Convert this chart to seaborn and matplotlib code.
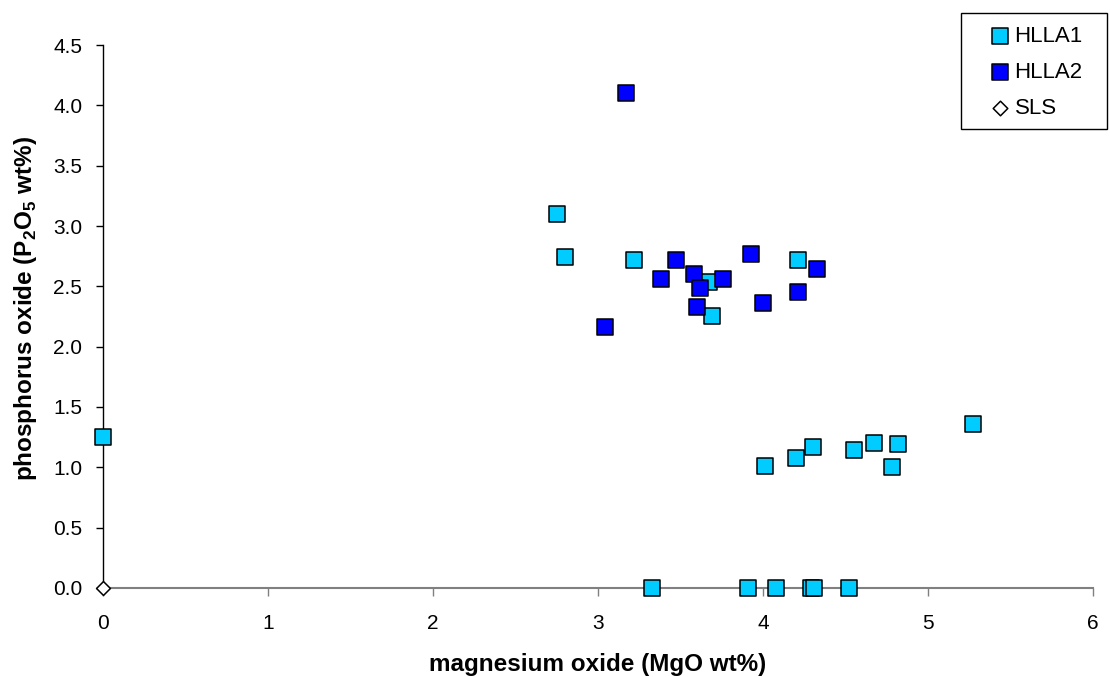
import matplotlib
matplotlib.use("Agg")
import matplotlib.pyplot as plt
from matplotlib.patches import Rectangle
import seaborn as sns
import pandas as pd

sns.set_theme(style="white")
plt.rcParams['font.family'] = ['Liberation Sans', 'DejaVu Sans']
plt.rcParams['mathtext.fontset'] = 'custom'
plt.rcParams['mathtext.rm'] = 'Liberation Sans'
plt.rcParams['mathtext.bf'] = 'Liberation Sans:bold'
plt.rcParams['text.color'] = 'black'
plt.rcParams['axes.labelcolor'] = 'black'
plt.rcParams['xtick.labelcolor'] = 'black'
plt.rcParams['ytick.labelcolor'] = 'black'

# HLLA1 series
hlla1_mgo = [0.0, 2.75, 2.80, 3.22, 3.67, 3.69, 4.21,
             4.01, 4.20, 4.30, 4.55, 4.67, 4.82, 4.78, 5.27,
             3.33, 3.91, 4.08, 4.29, 4.31, 4.52]
hlla1_p2o5 = [1.25, 3.10, 2.74, 2.72, 2.54, 2.25, 2.72,
              1.01, 1.08, 1.17, 1.14, 1.20, 1.19, 1.00, 1.36,
              0.0, 0.0, 0.0, 0.0, 0.0, 0.0]

# HLLA2 series
hlla2_mgo = [3.17, 3.04, 3.47, 3.38, 3.58, 3.62, 3.76, 3.60, 3.93, 4.00, 4.21, 4.33]
hlla2_p2o5 = [4.10, 2.16, 2.72, 2.56, 2.60, 2.49, 2.56, 2.33, 2.77, 2.36, 2.45, 2.64]

# SLS series
sls_mgo = [0.0]
sls_p2o5 = [0.0]

series_names = ["HLLA1", "HLLA2", "SLS"]

df1 = pd.DataFrame({"x": hlla1_mgo, "y": hlla1_p2o5})
df2 = pd.DataFrame({"x": hlla2_mgo, "y": hlla2_p2o5})
df3 = pd.DataFrame({"x": sls_mgo, "y": sls_p2o5})

fig = plt.figure(figsize=(11.1, 6.77), dpi=100)
ax = fig.add_axes([0.0928, 0.1315, 0.8919, 0.802])

common = dict(edgecolor="black", linewidth=1.1, clip_on=False, zorder=3)
sns.scatterplot(data=df1, x="x", y="y", ax=ax, marker="s", s=125,
                color="#00CCFF", label=series_names[0], **common)
sns.scatterplot(data=df2, x="x", y="y", ax=ax, marker="s", s=125,
                color="#0000FF", label=series_names[1], **common)
sns.scatterplot(data=df3, x="x", y="y", ax=ax, marker="D", s=50,
                color="white", label=series_names[2], **common)

ax.set_xlim(0, 6)
ax.set_ylim(0, 4.5)
ax.set_xticks(range(0, 7))
ax.set_yticks([i * 0.5 for i in range(10)])
ax.set_yticklabels([f"{i * 0.5:.1f}" for i in range(10)])

for side in ["top", "right"]:
    ax.spines[side].set_visible(False)
ax.spines["left"].set_color("black")
ax.spines["left"].set_linewidth(1.0)
ax.spines["bottom"].set_color("#808080")
ax.spines["bottom"].set_linewidth(1.5)

ax.tick_params(axis="y", direction="out", length=5, width=1.0, color="black",
               labelsize=15, pad=10, left=True, labelcolor="black")
ax.tick_params(axis="x", direction="out", length=6, width=1.0, color="#808080",
               labelsize=15, pad=13, bottom=True, labelcolor="black")

ax.set_xlabel("magnesium oxide (MgO wt%)", fontsize=17.5, fontweight="bold",
              labelpad=14, color="black")
ax.set_ylabel(r"phosphorus oxide (P$_\mathbf{2}$O$_\mathbf{5}$ wt%)", fontsize=17.5,
              fontweight="bold", labelpad=10, color="black")
ax.yaxis.label.set_y(0.515)

leg = ax.legend(loc="upper left", bbox_to_anchor=(989 / 1110, 1 - 26 / 677),
                bbox_transform=fig.transFigure, frameon=False,
                fontsize=16, handletextpad=0.15, borderpad=0.0,
                labelspacing=0.68, markerscale=1.05, handlelength=1.0,
                borderaxespad=0)
for t in leg.get_texts():
    t.set_color("black")

# legend frame box
fig.patches.append(Rectangle((961 / 1110, 1 - 129 / 677), 146 / 1110, 116 / 677,
                             transform=fig.transFigure, fill=False,
                             edgecolor="black", linewidth=1.0, zorder=5))

fig.savefig("out.png", dpi=100, facecolor="white")
